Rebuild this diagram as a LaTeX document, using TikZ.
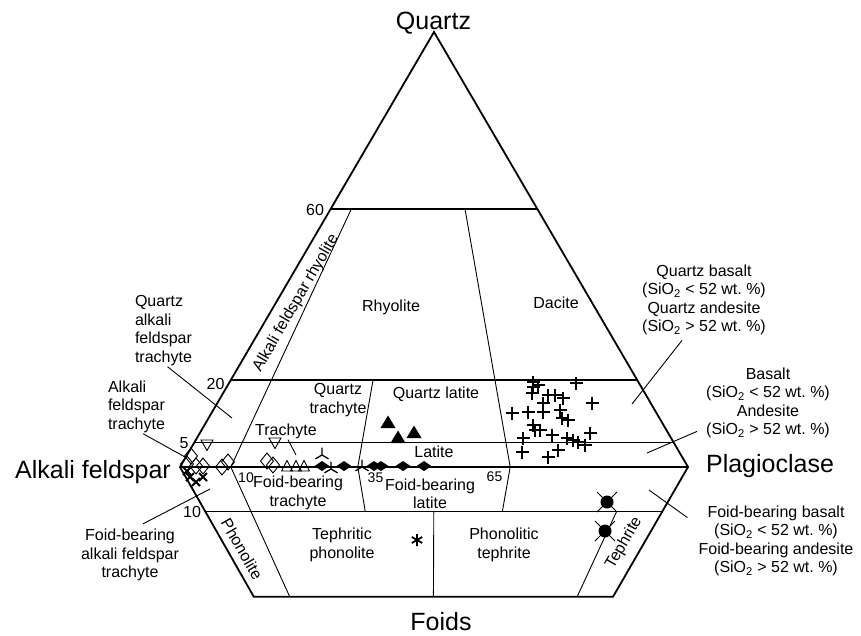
\documentclass[tikz,border=0pt]{standalone}
\usepackage{fontspec}
\setmainfont{Liberation Sans}
\usepackage{tikz}
\usetikzlibrary{calc}

\begin{document}
\begin{tikzpicture}[
    x=1pt, y=-1pt,
    every node/.style={font=\fontsize{16}{18.5}\selectfont, inner sep=1pt},
    cornerlabel/.style={
        font=\fontsize{25}{30}\selectfont,
        anchor=base
    },
    sidetick/.style={font=\fontsize{14}{16}\selectfont},
    outline/.style={line width=1.8pt},
    qline/.style={line width=1.2pt},
    pline/.style={line width=0.9pt},
    leaderline/.style={line width=0.9pt},
    plusmk/.pic={\draw[line width=2.4pt] (-6.5,0) -- (6.5,0) (0,-6.5) -- (0,6.5);},
    xmk/.pic={\draw[line width=2pt] (-4,-4) -- (4,4) (-4,4) -- (4,-4);},
    opendia/.pic={\draw[line width=0.9pt] (0,-8) -- (6.5,0) -- (0,8) -- (-6.5,0) -- cycle;},
    filldia/.pic={\fill (0,-5) -- (7.5,0) -- (0,5) -- (-7.5,0) -- cycle;},
    opendown/.pic={\draw[line width=0.9pt] (-6,-5) -- (6,-5) -- (0,5.5) -- cycle;},
    openup/.pic={\draw[line width=0.9pt] (-5.5,5) -- (5.5,5) -- (0,-5.5) -- cycle;},
    filltri/.pic={\fill (-7.5,6) -- (7.5,6) -- (0,-6.5) -- cycle;},
    trimk/.pic={\draw[line width=1.3pt] (0,0) -- (0,-7.5) (0,0) -- (-6.5,3.8) (0,0) -- (6.5,3.8);},
    circx/.pic={\draw[line width=0.8pt] (-10,-10) -- (10,10) (-10,10) -- (10,-10);
                \fill (0,0) circle (6.5pt);},
    astmk/.pic={\draw[line width=1.8pt] (0,-6) -- (0,6) (-5.2,-3) -- (5.2,3) (-5.2,3) -- (5.2,-3);}
]

\useasboundingbox (0,0) rectangle (861,635);

% ==========================================================
% CORNERS
% ==========================================================

\coordinate (A) at (180,467);
\coordinate (P) at (688,467);
\coordinate (Q) at (434,32);
\coordinate (F) at (432,910);
\coordinate (FL) at ($(A)!0.293!(F)$);
\coordinate (FR) at ($(P)!0.293!(F)$);

\coordinate (B10) at ($(A)!0.10!(P)$);
\coordinate (B35) at ($(A)!0.35!(P)$);
\coordinate (B50) at ($(A)!0.50!(P)$);
\coordinate (B65) at ($(A)!0.65!(P)$);
\coordinate (B90) at ($(A)!0.90!(P)$);

% ==========================================================
% FIELD BOUNDARIES
% ==========================================================

\draw[qline] ($(A)!0.593!(Q)$) -- ($(P)!0.593!(Q)$);
\draw[qline] ($(A)!0.2!(Q)$) -- ($(P)!0.2!(Q)$);
\draw[qline] ($(A)!0.057!(Q)$) -- ($(P)!0.057!(Q)$);
\draw[qline] ($(A)!0.1!(F)$) -- ($(P)!0.1!(F)$);

\draw[pline] (B10) -- ($(B10)!0.593!(Q)$);
\draw[pline] (B35) -- ($(B35)!0.2!(Q)$);
\draw[pline] (B65) -- ($(B65)!0.593!(Q)$);
\draw[pline] (B10) -- ($(B10)!0.293!(F)$);
\draw[pline] (B35) -- ($(B35)!0.1!(F)$);
\draw[pline] (B65) -- ($(B65)!0.1!(F)$);
\draw[pline] ($(B50)!0.1!(F)$) -- ($(B50)!0.293!(F)$);
\draw[pline] ($(B90)!0.1!(F)$) -- ($(B90)!0.293!(F)$);

\draw[outline] (A) -- (Q) -- (P) -- (FR) -- (FL) -- cycle;
\draw[outline] (A) -- (P);

% ==========================================================
% CORNER LABELS
% ==========================================================

\node[cornerlabel] (quartz) at (433.5,29) {Quartz};
\node[cornerlabel] (alkfsp) at (93,478) {Alkali feldspar};
\node[cornerlabel] (plag) at (770,472) {Plagioclase};
\node[cornerlabel] (foids) at (441,630) {Foids};

% ==========================================================
% TICKS
% ==========================================================

\node (t60) at (315,209.5) {60};
\node (t20) at (215.5,384) {20};
\node (t5) at (184,443) {5};
\node (t10a) at (192,512) {10};
\node[sidetick] (t10b) at (246,478) {10};
\node[sidetick] (t35) at (375.5,478) {35};
\node[sidetick] (t65) at (494.5,477) {65};

% ==========================================================
% FIELD NAMES
% ==========================================================

\node (rhyolite) at (391,307) {Rhyolite};
\node (dacite) at (556,303) {Dacite};
\node[rotate=60] (afrhyolite) at (296,303) {Alkali feldspar rhyolite};
\node[align=left] (qaftr) at (163.5,330.5) {Quartz\\alkali\\feldspar\\trachyte};
\node[align=left] (aftr) at (136.5,406.5) {Alkali\\feldspar\\trachyte};
\node[align=center] (qtrachyte) at (338,400) {Quartz\\trachyte};
\node (qlatite) at (436,394) {Quartz latite};
\node (trachyte) at (286,431) {Trachyte};
\node (latite) at (434,452) {Latite};
\node[align=center] (fbtrachyte) at (298,493) {Foid-bearing\\trachyte};
\node[align=center] (fblatite) at (430,494) {Foid-bearing\\latite};
\node[align=center] (tphonolite) at (342,545) {Tephritic\\phonolite};
\node[align=center] (ptephrite) at (504,545) {Phonolitic\\tephrite};
\node[rotate=-60] (phonolite) at (242,549) {Phonolite};
\node[rotate=60] (tephrite) at (624,543) {Tephrite};
\node[align=center] (fbaftr) at (130,555) {Foid-bearing\\alkali feldspar\\trachyte};
\node[align=center] (qbasalt) at (704,300)
{Quartz basalt\\(SiO\textsubscript{2} < 52 wt.\ \%)\\Quartz andesite\\(SiO\textsubscript{2} > 52 wt.\ \%)};
\node[align=center] (basalt) at (768,403)
{Basalt\\(SiO\textsubscript{2} < 52 wt.\ \%)\\Andesite\\(SiO\textsubscript{2} > 52 wt.\ \%)};
\node[align=center] (fbbasalt) at (776,541)
{Foid-bearing basalt\\(SiO\textsubscript{2} < 52 wt.\ \%)\\Foid-bearing andesite\\(SiO\textsubscript{2} > 52 wt.\ \%)};

% ==========================================================
% LEADERS
% ==========================================================

\coordinate (qaftr-pt) at (232,418);
\coordinate (aftr-pt) at (185,457);
\coordinate (trachyte-pt) at (296,455);
\coordinate (fbaftr-pt) at (210,489);
\coordinate (qbasalt-pt) at (632,404);
\coordinate (basalt-pt) at (647,453);
\coordinate (fbbasalt-pt) at (649,490);

\draw[leaderline] ([xshift=4pt]qaftr.south) -- (qaftr-pt);
\draw[leaderline] ([xshift=6.5pt]aftr.south) -- (aftr-pt);
\draw[leaderline] ([xshift=2pt]trachyte.south) -- (trachyte-pt);
\draw[leaderline] ([shift={(13pt,4pt)}]fbaftr.north) -- (fbaftr-pt);
\draw[leaderline] ([shift={(-22pt,-4pt)}]qbasalt.south) -- (qbasalt-pt);
\draw[leaderline] ([shift={(-8pt,8pt)}]basalt.south west) -- (basalt-pt);
\draw[leaderline] ([shift={(-10pt,-13pt)}]fbbasalt.north west) -- (fbbasalt-pt);

% ==========================================================
% SAMPLES
% ==========================================================

\foreach \px/\py in {191/456, 187/464, 196/466, 203/466, 222/467, 228/462, 267/461, 273/465}
    \pic at (\px,\py) {opendia};
\foreach \px/\py in {207/445, 275/443}
    \pic at (\px,\py) {opendown};
\foreach \px/\py in {287/466, 296/466, 304/466}
    \pic at (\px,\py) {openup};
\foreach \px/\py in {322/466, 344/466, 374/466, 381/466, 403/466, 424/466}
    \pic at (\px,\py) {filldia};
\foreach \px/\py in {322/455, 331/469, 362/467}
    \pic at (\px,\py) {trimk};
\foreach \px/\py in {388/422, 398/437, 414/432}
    \pic at (\px,\py) {filltri};
\foreach \px/\py in {187/471, 190/477, 196/482, 203/477}
    \pic at (\px,\py) {xmk};
\foreach \px/\py in {607/502, 605/531}
    \pic at (\px,\py) {circx};
\pic at (417,540) {astmk};

\foreach \px/\py in {533/382, 533/387, 538/385, 532/393, 576/383, 548/395, 555/395,
    563/398, 543/403, 592/403, 512/413, 528/412, 543/412, 560/410, 562/418, 568/420,
    533/425, 535/430, 540/430, 590/433, 523/438, 552/435, 567/438, 573/440, 578/442,
    585/445, 522/452, 558/450, 548/457}
    \pic at (\px,\py) {plusmk};

\end{tikzpicture}
\end{document}
